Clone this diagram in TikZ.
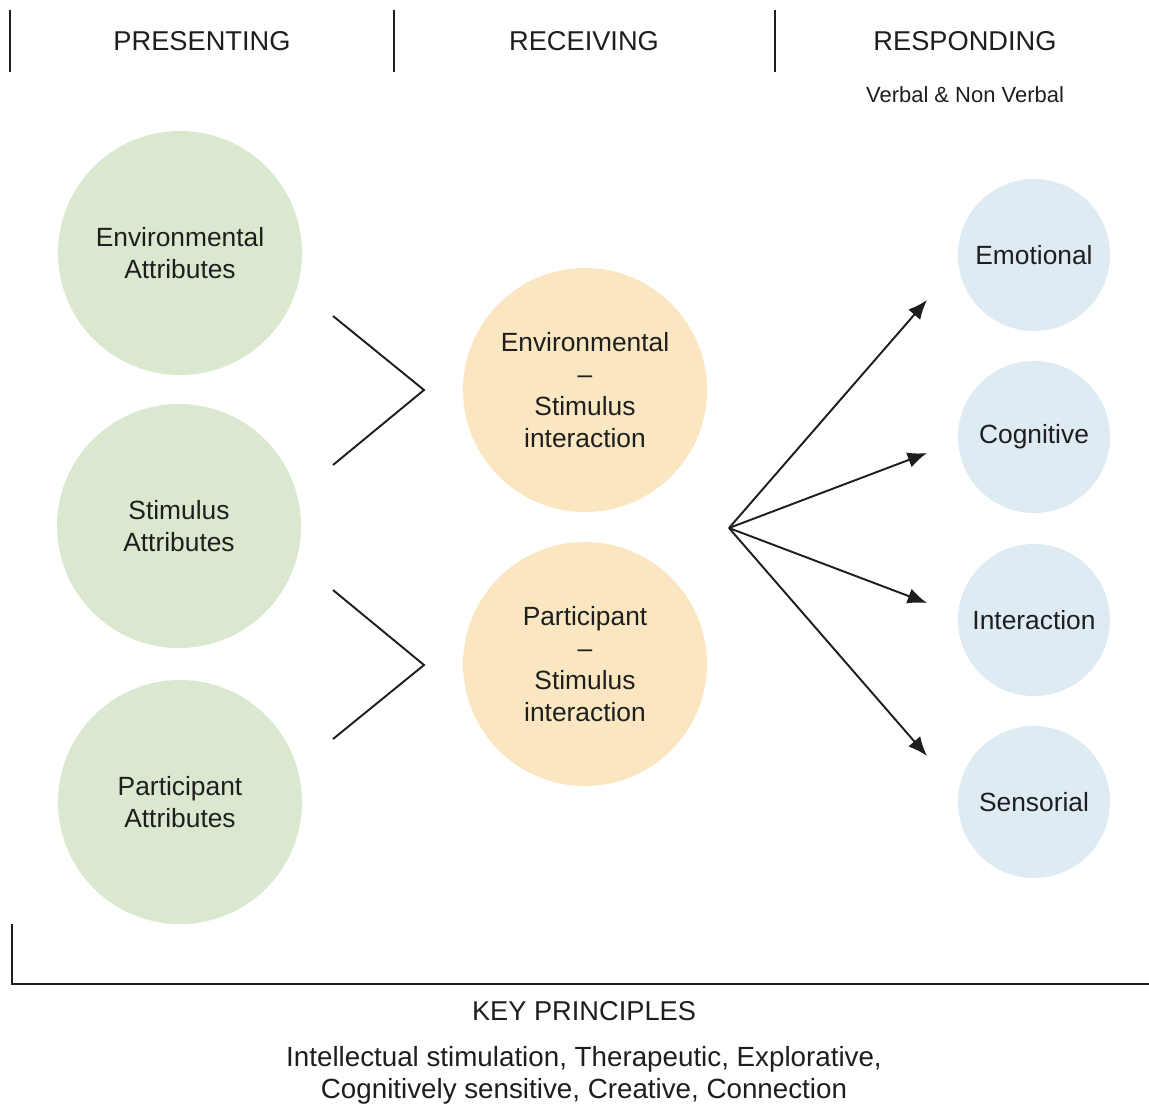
\documentclass[tikz,border=0pt]{standalone}
\usepackage{fontspec}
\setmainfont{Liberation Sans}
\usetikzlibrary{arrows.meta}
\definecolor{presentgreen}{HTML}{D9E8CF}
\definecolor{receiveorange}{HTML}{FAE6C0}
\definecolor{respondblue}{HTML}{DEEBF3}
\definecolor{inkgray}{HTML}{1E1E1E}
\tikzset{presentcircle/.style={circle,fill=presentgreen,minimum size=244\pgfxunit,inner sep=0pt,align=center,font=\fontsize{15}{18.2}\selectfont},
         receivecircle/.style={circle,fill=receiveorange,minimum size=244\pgfxunit,inner sep=0pt,align=center,font=\fontsize{15}{18.2}\selectfont},
         respondcircle/.style={circle,fill=respondblue,minimum size=152\pgfxunit,inner sep=0pt,align=center,font=\fontsize{15}{18.2}\selectfont},
         headtext/.style={font=\fontsize{15.5}{18.2}\selectfont,text=inkgray},
         bookline/.style={line width=1.1pt,draw=inkgray},
         bookarrow/.style={bookline,-{Latex[length=11pt,width=9pt]}}}
\newlength{\pgfxunit}
\setlength{\pgfxunit}{0.02cm}

\begin{document}
\begin{tikzpicture}[x=0.02cm,y=-0.02cm,text=inkgray]
\useasboundingbox (0,0) rectangle (1149,1107);
% column heads
\draw[bookline] (10,10) -- (10,72);
\draw[bookline] (394,10) -- (394,72);
\draw[bookline] (775,10) -- (775,72);
\node[headtext] (presenting) at (202,41) {PRESENTING};
\node[headtext] (receiving) at (584,41) {RECEIVING};
\node[headtext] (responding) at (965,41) {RESPONDING};
\node[font=\fontsize{12.5}{15}\selectfont] (verbal) at (965,95) {Verbal \& Non Verbal};
% presenting
\node[presentcircle] (envattr) at (180,253) {Environmental\\Attributes};
\node[presentcircle] (stimattr) at (179,526) {Stimulus\\Attributes};
\node[presentcircle] (partattr) at (180,802) {Participant\\Attributes};
% receiving
\node[receivecircle] (envstim) at (585,390) {Environmental\\--\\Stimulus\\interaction};
\node[receivecircle] (partstim) at (585,664) {Participant\\--\\Stimulus\\interaction};
% responding
\node[respondcircle] (emotional) at (1034,255) {Emotional};
\node[respondcircle] (cognitive) at (1034,437) {Cognitive};
\node[respondcircle] (interaction) at (1034,620) {Interaction};
\node[respondcircle] (sensorial) at (1034,802) {Sensorial};
% chevrons
\draw[bookline] (333,316) -- (424,390) -- (333,465);
\draw[bookline] (333,590) -- (424,665) -- (333,739);
% fan of arrows
\coordinate (hub) at (729,528);
\coordinate (toemo) at (927,300);
\coordinate (tocog) at (927,453);
\coordinate (toint) at (927,603);
\coordinate (tosen) at (927,756);
\foreach \tip in {toemo,tocog,toint,tosen}
  \draw[bookarrow] (hub) -- (\tip);
% key principles
\draw[bookline] (12,924) -- (12,984) -- (1149,984);
\node[headtext] (keyprinc) at (584,1011) {KEY PRINCIPLES};
\node[align=center,font=\fontsize{15.8}{18.2}\selectfont] (principles) at (584,1075) {Intellectual stimulation, Therapeutic, Explorative,\\Cognitively sensitive, Creative, Connection};
\end{tikzpicture}
\end{document}
